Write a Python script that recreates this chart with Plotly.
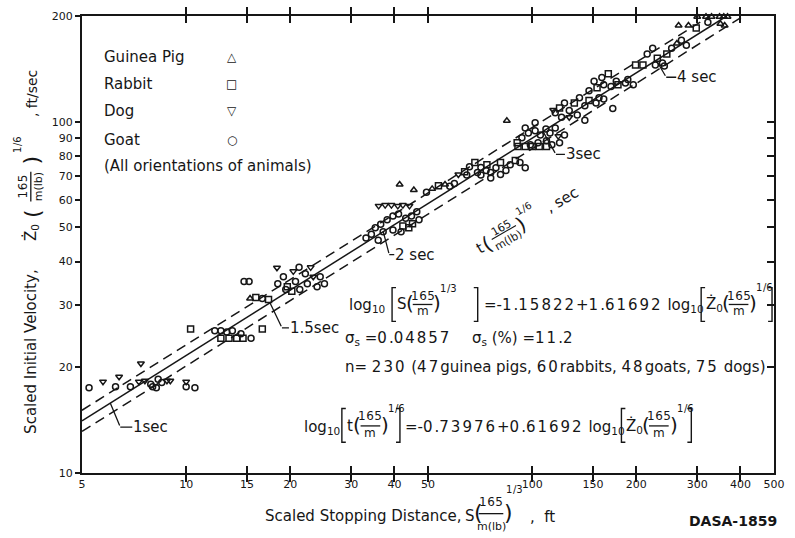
import math
import re
import plotly.graph_objects as go

# ---------------- data ----------------
# Guinea pigs (triangle up)
GP_S = [15.3, 41.4, 45.5, 51.4, 56.0, 84.5, 262, 265, 283, 300, 318, 330, 348, 358, 367, 350, 360]
GP_Z = [31.4, 66.3, 63.9, 64.4, 66.3, 100.6, 167, 188, 188, 199, 199, 199, 199, 199, 199, 190, 188]
# Rabbits (square)
RB_S = [10.3, 16.6, 12.6, 13.3, 14.0, 14.6, 15.9, 17.3, 19.6, 20.2, 45.1, 42.3, 44.0, 53.6, 63.8,
        68.3, 74.0, 81.0, 89.4, 91, 95.5, 100, 104.8, 110, 90.5, 120, 132.4, 146, 166, 154, 177,
        199, 209, 230, 245, 298]
RB_Z = [25.7, 25.7, 24.2, 24.2, 24.2, 24.2, 31.6, 31.2, 33.9, 32.9, 51.2, 50.5, 49.9, 65.7, 72.1,
        76.5, 75.4, 76.5, 77.6, 85, 85, 85, 85, 85, 87.1, 109.5, 113, 115, 137, 125, 127.5,
        145, 145, 151.5, 156, 185]
# Dogs (triangle down)
DG_S = [5.75, 6.4, 7.4, 7.3, 7.6, 8.8, 9.0, 10.0, 18.3, 20.4, 23.3, 22.9, 36.0, 37.6, 39.2, 40.9,
        42.3, 44.2, 61.2, 119, 115, 128]
DG_Z = [18.2, 18.8, 20.5, 18.2, 18.3, 18.3, 18.3, 18.2, 38.4, 37.5, 36.2, 38.5, 57.6, 57.9, 57.9, 57.6,
        57.9, 57.6, 70.8, 91, 108, 103]
# Goats (circle)
GT_S = [5.24, 6.25, 6.9, 7.9, 8.2, 8.5, 8.3, 8.0, 10.0, 10.6,
        12.1, 12.6, 13.1, 13.6, 15.4, 14.4,
        14.7, 15.2, 16.6,
        18.4, 19.1, 20.7, 21.3, 22.1, 22.4, 23.9, 19.4, 24.4, 25.1, 21.2,
        33.1, 34.3, 35.2, 36.5, 38.1, 39.6, 41.1, 43.1, 44.8, 46.4, 37.1, 39.6, 41.8, 47.1, 35.9,
        49.5, 57.8, 59.6,
        65.9, 71.1, 75.9, 78.6, 84.0, 86.4, 71.1, 75.9, 81.0, 92.2, 64.7, 69.5, 73.6, 95.5,
        93.4, 97.5, 102, 105.6, 109.6, 112.6, 116.6, 98.8, 104, 110, 114, 120, 124, 102, 95.5,
        142,
        116.6, 124, 128, 137, 142, 153, 156, 161, 121.6, 135, 171,
        146, 161, 169, 186, 196, 151, 159, 175, 189,
        215, 223, 238, 253, 227, 241, 270, 279,
        322]
GT_Z = [17.5, 17.6, 17.6, 17.9, 17.5, 18.1, 18.5, 17.6, 17.6, 17.5,
        25.4, 25.4, 25.2, 25.4, 24.2, 24.9,
        35.1, 35.1, 31.4,
        34.6, 36.2, 35.1, 33.3, 36.9, 34.6, 33.9, 33.3, 36.2, 34.6, 38.5,
        46.7, 47.8, 49.9, 51.1, 52.6, 53.9, 54.6, 53.1, 53.9, 55.4, 48.6, 49.2, 48.6, 52.6, 46.0,
        63.0, 65.5, 66.7,
        74.4, 74.1, 71.7, 74.0, 72.6, 75.4, 70.5, 69.1, 70.8, 76.5, 70.5, 71.7, 72.6, 74.0,
        90.0, 92.9, 94.2, 91.6, 95.4, 92.9, 96.0, 86.0, 87.1, 88.3, 86.0, 87.1, 91.6, 99.4, 96.0,
        101,
        106, 113, 107.6, 117, 111, 113, 117, 116, 103, 104.6, 109,
        122.6, 127.5, 126, 129, 127.5, 130.5, 133.7, 130.5, 132,
        156, 162, 147, 162, 145, 144, 170.6, 165,
        192]

X_TICKS = [5, 10, 15, 20, 30, 40, 50, 100, 150, 200, 300, 400, 500]
Y_TICKS = [10, 20, 30, 40, 50, 60, 70, 80, 90, 100, 200]
Y_RIGHT_TICKS = [20, 30, 40, 50, 60, 70, 80, 90, 100]
X_RANGE = [5, 500]
Y_RANGE = [10, 200]

# regression constants printed on the chart
INTERCEPT = -1.15822
SLOPE = 1.61692
SIGMA = 0.04857
T_INTERCEPT = -0.73976
T_SLOPE = 0.61692
TIME_MARKS = [1, 1.5, 2, 3, 4]
TIME_LABELS = ["1sec", "1.5sec", "2 sec", "3sec", "4 sec"]

# ---------------- styling ----------------
INK = "#161616"
FONT = "DejaVu Sans"
FIG_W, FIG_H = 795, 538
L, R, TOP, BOT = 82, 785, 12, 473          # plot-area edges in pixels
PW, PH = R - L, BOT - TOP
DS = 2.0                                   # extra spacing for the wide stencil digits

fig = go.Figure()

def add_species(S, Z, sym, name):
    fig.add_trace(go.Scatter(
        x=S, y=Z, mode="markers", name=name, showlegend=False, cliponaxis=False,
        marker=dict(symbol=sym, size=6, color=INK, line=dict(width=1.5, color=INK))))

def reg_line(off):
    s0 = X_RANGE[0]
    z0 = 10 ** ((math.log10(s0) - INTERCEPT - off) / SLOPE)
    z1 = Y_RANGE[1]
    s1 = 10 ** (INTERCEPT + SLOPE * math.log10(z1) + off)
    return [s0, s1], [z0, z1]

for off, dash in [(0.0, "solid"), (-SIGMA, "10px,6px"), (SIGMA, "10px,6px")]:
    xs, ys = reg_line(off)
    fig.add_trace(go.Scatter(x=xs, y=ys, mode="lines", showlegend=False, hoverinfo="skip",
                             line=dict(color=INK, width=1.5, dash=dash)))

add_species(GT_S, GT_Z, "circle-open", "Goat")
add_species(RB_S, RB_Z, "square-open", "Rabbit")
add_species(DG_S, DG_Z, "triangle-down-open", "Dog")
add_species(GP_S, GP_Z, "triangle-up-open", "Guinea Pig")

# helper trace for the right-hand tick axis
fig.add_trace(go.Scatter(x=[X_TICKS[0]], y=[Y_TICKS[0]], yaxis="y2", mode="markers",
                         marker=dict(opacity=0), showlegend=False, hoverinfo="skip"))

# ---------------- time labels with leaders ----------------
LEADERS = [(10, 24, 12), (12, 25, 7), (6, 23, 5), (13, 23, 9), (10, 17, 10)]
for t, lab, (bdx, bdy, gap) in zip(TIME_MARKS, TIME_LABELS, LEADERS):
    lz = (math.log10(t) - T_INTERCEPT) / T_SLOPE
    ls = INTERCEPT + SLOPE * lz
    fig.add_annotation(x=ls, y=lz, xref="x", yref="y", text="", showarrow=True,
                       arrowhead=0, arrowwidth=1.3, arrowcolor=INK, ax=bdx, ay=bdy, standoff=0)
    fig.add_annotation(x=ls, y=lz, xref="x", yref="y", xshift=bdx, yshift=-bdy,
                       text=lab, showarrow=True, arrowhead=0, arrowwidth=1.3, arrowcolor=INK,
                       ax=gap, ay=0, xanchor="left", yanchor="middle", standoff=0, borderpad=0,
                       font=dict(family=FONT, size=15, color=INK))

# ---------------- text helpers (pixel positions -> paper) ----------------
def px(x):
    return (x - L) / PW

def py(y):
    return (BOT - y) / PH

def wide(s, ls=DS):
    return re.sub(r"(\d+)", lambda m: f'<span style="letter-spacing:{ls}px">{m.group(1)}</span>', s)

def T(text, x, y, size=15, anchor="left", angle=0, bold=False):
    fig.add_annotation(x=px(x), y=py(y), xref="paper", yref="paper", text=text, showarrow=False,
                       xanchor=anchor, yanchor="middle", textangle=angle, borderpad=0,
                       font=dict(family=FONT, size=size, color=INK,
                                 weight="bold" if bold else "normal"))

def hbar(x0, x1, y, w=1.3):
    fig.add_shape(type="line", xref="paper", yref="paper", x0=px(x0), x1=px(x1),
                  y0=py(y), y1=py(y), line=dict(color=INK, width=w))

def vbar(x, y0, y1, w=1.3):
    fig.add_shape(type="line", xref="paper", yref="paper", x0=px(x), x1=px(x),
                  y0=py(y0), y1=py(y1), line=dict(color=INK, width=w))

def bracket(x, y0, y1, d):
    path = (f"M {px(x + d)},{py(y0)} L {px(x)},{py(y0)} L {px(x)},{py(y1)} "
            f"L {px(x + d)},{py(y1)}")
    fig.add_shape(type="path", xref="paper", yref="paper", path=path,
                  line=dict(color=INK, width=1.4))

def frac(cx, ynum, yden, num, den, half, size=12):
    T(wide(num, 0.5), cx, ynum, size=size, anchor="center")
    T(den, cx, yden, size=size, anchor="center")
    hbar(cx - half, cx + half, (ynum + yden) / 2 + 1)

# ---------------- legend ----------------
for txt, sym, y in [("Guinea Pig", "△", 53), ("Rabbit", "□", 81), ("Dog", "▽", 108), ("Goat", "○", 137)]:
    T(txt, 103, y, size=15)
    T(sym, 234, y, size=12, anchor="center")
T("(All orientations of animals)", 103, 163, size=15)

# ---------------- equation block ----------------
y1 = 303
T("log<sub>10</sub>", 352, y1 + 1)
bracket(397, 286, 320, 4)
T("S", 401, y1)
T("(", 410, y1 - 1, size=20)
frac(428, 294, 310, "165", "m", 10)
T(")", 438, y1 - 1, size=20)
T(wide("1/3", 0.5), 445, 287, size=10)
bracket(484, 286, 320, -4)
T(wide("=-1.15822+1.61692") + " log<sub>10</sub>", 489, y1 + 1)
bracket(711, 286, 320, 4)
T("Ż<sub>0</sub>", 715, y1)
T("(", 731, y1 - 1, size=20)
frac(749, 294, 310, "165", "m", 10)
T(")", 759, y1 - 1, size=20)
T(wide("1/6", 0.5), 766, 286, size=10)
bracket(783, 286, 320, -4)

T("σ<sub>s</sub> " + wide("=0.04857"), 348, 337)
T("σ<sub>s</sub> (%) " + wide("=11.2"), 477, 337)
T(wide("n= 230 (47guinea pigs, 60rabbits, 48goats, 75 dogs)"), 348, 366)

y4 = 426
T("log<sub>10</sub>", 307, y4 + 1)
bracket(346, 408, 442, 4)
T("t", 350, y4)
T("(", 356, y4 - 1, size=20)
frac(375, 416, 433, "165", "m", 10)
T(")", 385, y4 - 1, size=20)
T(wide("1/6", 0.5), 392, 408, size=10)
bracket(405, 408, 442, -4)
T(wide("=-0.73976+0.61692") + " log<sub>10</sub>", 409, y4 + 1)
bracket(630, 408, 442, 4)
T("Ż<sub>0</sub>", 634, y4)
T("(", 650, y4 - 1, size=20)
frac(668, 416, 433, "165", "m", 10)
T(")", 678, y4 - 1, size=20)
T(wide("1/6", 0.5), 685, 408, size=10)
bracket(701, 408, 442, -4)

# ---------------- diagonal t-label ----------------
ANG = 30
ca, sa = math.cos(math.radians(ANG)), math.sin(math.radians(ANG))
BX, BY = 490, 244

def diag(text, along, up, size):
    x = BX + along * ca - up * sa
    y = BY - along * sa - up * ca
    T(text, x, y, size=size, anchor="center", angle=-ANG)

diag("t", -4, 0, 15)
diag("(", 4, 0, 20)
diag("<u>&nbsp;165&nbsp;</u><br>m(lb)", 24, 0, 11)
diag(")", 44, 0, 20)
diag(wide("1/6", 0.5), 54, 13, 10)
diag(", sec", 92, 0, 15)

# ---------------- axis titles ----------------
T("Scaled Stopping Distance,", 267, 516)
T("S", 470, 516)
T("(", 479, 513, size=22)
T(wide("165", 0.5), 497, 502, size=12, anchor="center")
T("m(lb)", 498, 527, size=11, anchor="center")
hbar(485, 510, 514)
T(")", 510, 513, size=22)
T(wide("1/3", 0.5), 512, 490, size=10)
T(",  ft", 536, 517)
T("DASA-1859", 698, 521, size=14, bold=True)

T("Scaled Initial Velocity,", 30, 350, anchor="center", angle=-90)
T("Ż<sub>0</sub>", 30, 230, anchor="center", angle=-90)
T("(", 31, 211, size=22, anchor="center", angle=-90)
T(wide("165", 0.5), 22, 184, size=12, anchor="center", angle=-90)
T("m(lb)", 38, 184, size=11, anchor="center", angle=-90)
vbar(30, 169, 199)
T(")", 31, 157, size=22, anchor="center", angle=-90)
T(wide("1/6", 0.5), 17, 142, size=10, anchor="center", angle=-90)
T(", ft/sec", 32, 90, size=14, anchor="center", angle=-90)

# ---------------- layout ----------------
fig.update_layout(
    width=FIG_W, height=FIG_H,
    margin=dict(l=L, r=FIG_W - R, t=TOP, b=FIG_H - BOT),
    paper_bgcolor="white", plot_bgcolor="white",
    font=dict(family=FONT, color=INK),
    xaxis=dict(type="log", range=[math.log10(X_RANGE[0]), math.log10(X_RANGE[1])],
               tickvals=X_TICKS, ticktext=[str(v) for v in X_TICKS],
               ticks="inside", ticklen=7, tickwidth=1.5, tickcolor=INK,
               mirror="allticks", showline=True, linewidth=2, linecolor=INK,
               showgrid=False, zeroline=False, tickfont=dict(size=11, family=FONT, color=INK)),
    yaxis=dict(type="log", range=[math.log10(Y_RANGE[0]), math.log10(Y_RANGE[1])],
               tickvals=Y_TICKS, ticktext=[str(v) for v in Y_TICKS],
               ticks="outside", ticklen=5, tickwidth=1.5, tickcolor=INK,
               mirror=True, showline=True, linewidth=2, linecolor=INK,
               showgrid=False, zeroline=False, tickfont=dict(size=11, family=FONT, color=INK)),
    yaxis2=dict(type="log", range=[math.log10(Y_RANGE[0]), math.log10(Y_RANGE[1])],
                overlaying="y", side="right", tickvals=Y_RIGHT_TICKS, showticklabels=False,
                ticks="inside", ticklen=7, tickwidth=1.5, tickcolor=INK,
                showline=False, showgrid=False, zeroline=False),
)

fig.write_html("out.html", config={"displayModeBar": False},
               post_script="document.body.style.margin='0px';document.body.style.overflow='hidden';")
